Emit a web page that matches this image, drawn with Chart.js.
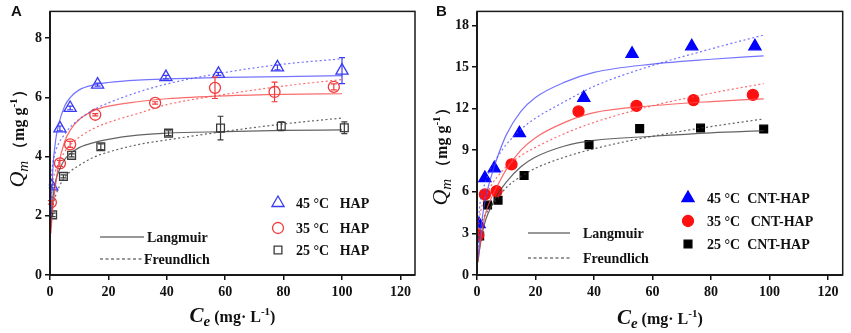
<!DOCTYPE html>
<html>
<head>
<meta charset="utf-8">
<script src="https://cdn.jsdelivr.net/npm/chart.js@4.4.0/dist/chart.umd.min.js"></script>
<style>
body{margin:0;background:#fff;}
#wrap{position:relative;width:851px;height:333px;background:#fff;}
#chartA{position:absolute;left:0;top:0;}
#chartB{position:absolute;left:425px;top:0;}
</style>
</head>
<body>
<div id="wrap">
<canvas id="chartA" width="425" height="333"></canvas>
<canvas id="chartB" width="426" height="333"></canvas>
</div>
<script>
// ---- panel A : HAP ----
var a45x = [0.6, 3.4, 6.9, 16.3, 39.7, 57.7, 77.9, 100];
var a45y = [2.99, 4.95, 5.64, 6.43, 6.68, 6.79, 7.01, 6.9];
var a45err = [0.05, 0.08, 0.06, 0.05, 0.06, 0.05, 0.08, 0.44];
var a35x = [0.3, 3.4, 6.9, 15.5, 36, 56.5, 76.9, 97.2];
var a35y = [2.45, 3.77, 4.41, 5.41, 5.81, 6.32, 6.18, 6.35];
var a35err = [0.06, 0.1, 0.1, 0.04, 0.04, 0.36, 0.33, 0.1];
var a25x = [0.9, 4.6, 7.4, 17.4, 40.6, 58.4, 79.2, 100.8];
var a25y = [2.03, 3.33, 4.04, 4.33, 4.79, 4.96, 5.02, 4.97];
var a25err = [0.06, 0.05, 0.05, 0.1, 0.08, 0.4, 0.15, 0.2];

// fitted curves
var fitXA = [0.3, 1, 2, 3, 5, 7, 10, 15, 20, 30, 40, 60, 80, 100];
var a45L = [1.9, 3.6, 4.6, 5.1, 5.7, 6.0, 6.25, 6.42, 6.5, 6.58, 6.62, 6.67, 6.7, 6.73];
var a45F = [3.2, 3.8, 4.2, 4.45, 4.75, 5.0, 5.26, 5.58, 5.81, 6.17, 6.45, 6.84, 7.12, 7.3];
var a35L = [1.4, 2.3, 3.1, 3.75, 4.5, 4.9, 5.25, 5.55, 5.7, 5.85, 5.95, 6.05, 6.1, 6.12];
var a35F = [2.6, 3.2, 3.55, 3.8, 4.15, 4.4, 4.65, 4.95, 5.15, 5.45, 5.75, 6.1, 6.38, 6.6];
var a25L = [1.6, 2.6, 3.2, 3.5, 3.9, 4.1, 4.3, 4.47, 4.58, 4.72, 4.79, 4.84, 4.88, 4.9];
var a25F = [1.9, 2.35, 2.7, 2.95, 3.3, 3.5, 3.7, 3.98, 4.15, 4.4, 4.56, 4.85, 5.1, 5.3];

// ---- panel B : CNT-HAP ----
var b45x = [0.7, 2.7, 5.9, 14.5, 36.5, 53, 73.4, 95];
var b45y = [3.66, 6.98, 7.69, 10.22, 12.77, 15.94, 16.48, 16.48];
var b35x = [0.45, 2.7, 6.7, 11.8, 34.7, 54.5, 74, 94.3];
var b35y = [2.88, 5.81, 6.05, 7.97, 11.79, 12.19, 12.61, 12.98];
var b25x = [0.9, 3.6, 7.2, 16.1, 38.3, 55.6, 76.4, 98];
var b25y = [2.81, 5.04, 5.39, 7.17, 9.4, 10.55, 10.59, 10.52];

var fitXB = [0.3, 1, 2, 3, 5, 7, 10, 15, 20, 30, 40, 60, 80, 98];
var b45L = [1.2, 2.7, 4.4, 5.6, 7.2, 8.5, 10.1, 11.8, 12.8, 13.9, 14.6, 15.2, 15.55, 15.8];
var b45F = [3.5, 5.1, 6.1, 6.8, 7.8, 8.5, 9.4, 10.5, 11.3, 12.5, 13.6, 15.1, 16.3, 17.3];
var b35L = [1.0, 2.1, 3.5, 4.5, 5.6, 6.45, 7.6, 9.0, 9.9, 11.0, 11.7, 12.2, 12.5, 12.7];
var b35F = [3.0, 4.3, 5.2, 5.7, 6.5, 7.1, 7.8, 8.6, 9.2, 10.2, 11.0, 12.2, 13.1, 13.8];
var b25L = [0.9, 2.0, 3.2, 4.0, 5.0, 5.8, 6.7, 7.8, 8.5, 9.3, 9.7, 10.0, 10.25, 10.4];
var b25F = [2.0, 3.3, 4.0, 4.4, 5.0, 5.5, 6.3, 7.1, 7.7, 8.5, 9.1, 10.0, 10.7, 11.25];

var xTicks = [0, 20, 40, 60, 80, 100, 120];
var yTicksA = [0, 2, 4, 6, 8];
var yTicksB = [0, 3, 6, 9, 12, 15, 18];

var SERIF = '"Liberation Serif", "Times New Roman", serif';

function pts(xs, ys) {
  return xs.map(function (x, i) { return { x: x, y: ys[i] }; });
}

function curve(xs, ys, color, dotted) {
  return {
    data: pts(xs, ys),
    showLine: true,
    pointRadius: 0,
    borderColor: color,
    borderWidth: 1.2,
    borderDash: dotted ? [2, 2.5] : [],
    cubicInterpolationMode: 'monotone',
    fill: false
  };
}

function marks(xs, ys, style, color, fillIt, r, err) {
  return {
    data: pts(xs, ys),
    showLine: false,
    pointStyle: style,
    pointRadius: r,
    pointBorderWidth: 1.3,
    pointBorderColor: color,
    pointBackgroundColor: fillIt ? color : 'rgba(0,0,0,0)',
    borderColor: color,
    backgroundColor: fillIt ? color : 'rgba(0,0,0,0)',
    err: err
  };
}

// draw a line of mixed-font text, centred at x
function runs(ctx, parts, x, y) {
  var w = 0;
  parts.forEach(function (p) { ctx.font = p[1]; w += ctx.measureText(p[0]).width; });
  var cx = x - w / 2;
  ctx.textAlign = 'left';
  ctx.textBaseline = 'alphabetic';
  parts.forEach(function (p) {
    ctx.font = p[1];
    ctx.fillText(p[0], cx, y + (p[2] || 0));
    cx += ctx.measureText(p[0]).width;
  });
}

var decorPlugin = {
  id: 'decor',
  afterDatasetsDraw: function (chart) {
    var ctx = chart.ctx, xs = chart.scales.x, ys = chart.scales.y;
    // error bars
    chart.data.datasets.forEach(function (ds) {
      if (!ds.err) return;
      ctx.save();
      ctx.strokeStyle = ds.borderColor;
      ctx.lineWidth = 1.2;
      ds.data.forEach(function (p, i) {
        var e = ds.err[i];
        if (!e) return;
        var px = xs.getPixelForValue(p.x);
        var top = ys.getPixelForValue(p.y + e), bot = ys.getPixelForValue(p.y - e);
        ctx.beginPath();
        ctx.moveTo(px, top); ctx.lineTo(px, bot);
        ctx.moveTo(px - 3, top); ctx.lineTo(px + 3, top);
        ctx.moveTo(px - 3, bot); ctx.lineTo(px + 3, bot);
        ctx.stroke();
      });
      ctx.restore();
    });
  },
  afterDraw: function (chart) {
    var o = chart.options.plugins.decor;
    var ctx = chart.ctx, a = chart.chartArea;
    ctx.save();
    // frame
    ctx.strokeStyle = '#1a1a1a';
    ctx.lineWidth = 1.5;
    ctx.strokeRect(a.left, a.top, a.right - a.left, a.bottom - a.top);
    ctx.lineWidth = 2;
    ctx.beginPath();
    ctx.moveTo(a.left, a.top); ctx.lineTo(a.left, a.bottom); ctx.lineTo(a.right, a.bottom);
    ctx.stroke();

    ctx.fillStyle = '#111';
    // panel letter
    ctx.font = 'bold 15px "Liberation Sans", Arial, sans-serif';
    ctx.textAlign = 'left';
    ctx.fillText(o.letter, 11, 16);

    // x title
    runs(ctx, [
      ['C', 'italic bold 21px ' + SERIF],
      ['e', 'italic bold 15px ' + SERIF, 4],
      [' (mg\u00b7 L', 'bold 16px ' + SERIF],
      ['-1', 'bold 11px ' + SERIF, -7],
      [')', 'bold 16px ' + SERIF]
    ], (a.left + a.right) / 2, o.xTitleY);

    // y title
    ctx.save();
    ctx.translate(o.yTitleX, o.yTitleY);
    ctx.rotate(-Math.PI / 2);
    runs(ctx, [
      ['Q', 'italic 22px ' + SERIF],
      ['m', 'italic 15px ' + SERIF, 4],
      [' \uff08mg', 'bold 16px ' + SERIF],
      [o.gSep + 'g', 'bold 16px ' + SERIF],
      ['-1', 'bold 11px ' + SERIF, -7],
      ['\uff09', 'bold 16px ' + SERIF]
    ], 0, 0);
    ctx.restore();

    // legend: symbols
    var H = Chart.helpers;
    o.items.forEach(function (it) {
      ctx.save();
      ctx.strokeStyle = it.color;
      ctx.lineWidth = 1.3;
      ctx.fillStyle = it.fill ? it.color : 'rgba(0,0,0,0)';
      H.drawPoint(ctx, { pointStyle: it.style, radius: it.r, rotation: 0, borderWidth: 1.3 }, it.x, it.y);
      ctx.restore();
      ctx.fillStyle = '#111';
      ctx.font = 'bold 14px ' + SERIF;
      ctx.textAlign = 'left';
      ctx.textBaseline = 'middle';
      ctx.fillText(it.label, o.legTextX, it.y + 1);
    });
    // legend: model lines
    o.models.forEach(function (m) {
      ctx.save();
      ctx.strokeStyle = '#333';
      ctx.lineWidth = 1.2;
      ctx.setLineDash(m.dash);
      ctx.beginPath();
      ctx.moveTo(m.x0, m.y); ctx.lineTo(m.x1, m.y);
      ctx.stroke();
      ctx.restore();
      ctx.fillStyle = '#111';
      ctx.font = 'bold 14px ' + SERIF;
      ctx.textAlign = 'left';
      ctx.textBaseline = 'middle';
      ctx.fillText(m.label, m.tx, m.y + 1);
    });
    ctx.restore();
  }
};

function scales(yMax, yTicks, yWidth) {
  var tickFont = { family: SERIF, size: 14, weight: 'bold' };
  return {
    x: {
      type: 'linear', min: 0, max: 125,
      afterBuildTicks: function (s) { s.ticks = xTicks.map(function (v) { return { value: v }; }); },
      afterFit: function (s) { s.height = 58; },
      border: { display: false },
      grid: { drawOnChartArea: false, drawTicks: true, tickLength: 5, color: '#111', lineWidth: 1.5 },
      ticks: { color: '#111', font: tickFont, padding: 4, maxRotation: 0 }
    },
    y: {
      type: 'linear', min: 0, max: yMax,
      afterBuildTicks: function (s) { s.ticks = yTicks.map(function (v) { return { value: v }; }); },
      afterFit: function (s) { s.width = yWidth; },
      border: { display: false },
      grid: { drawOnChartArea: false, drawTicks: true, tickLength: 5, color: '#111', lineWidth: 1.5 },
      ticks: { color: '#111', font: tickFont, padding: 3 }
    }
  };
}

var BLUE_A = '#3a3af5', RED_A = '#f03c3c', BLK_A = '#3a3a3a';
var BLUE_L = 'rgba(70,70,255,0.75)', RED_L = 'rgba(250,70,70,0.8)', BLK_L = 'rgba(60,60,60,0.8)';

new Chart(document.getElementById('chartA'), {
  type: 'scatter',
  data: {
    datasets: [
      curve(fitXA, a45L, BLUE_L, false),
      curve(fitXA, a45F, BLUE_L, true),
      curve(fitXA, a35L, RED_L, false),
      curve(fitXA, a35F, RED_L, true),
      curve(fitXA, a25L, BLK_L, false),
      curve(fitXA, a25F, BLK_L, true),
      marks(a45x, a45y, 'triangle', BLUE_A, false, 7, a45err),
      marks(a35x, a35y, 'circle', RED_A, false, 5.5, a35err),
      marks(a25x, a25y, 'rect', BLK_A, false, 5.5, a25err)
    ]
  },
  options: {
    responsive: false,
    animation: false,
    layout: { padding: { top: 5, right: 10, left: 0, bottom: 0 } },
    scales: scales(8.9, yTicksA, 50),
    plugins: {
      legend: { display: false },
      tooltip: { enabled: false },
      decor: {
        letter: 'A', xTitleY: 322, yTitleX: 24, yTitleY: 135, gSep: ' ',
        legTextX: 296,
        items: [
          { label: '45 \u00b0C   HAP', style: 'triangle', color: BLUE_A, fill: false, r: 7, x: 278, y: 203 },
          { label: '35 \u00b0C   HAP', style: 'circle', color: RED_A, fill: false, r: 5.5, x: 278, y: 228 },
          { label: '25 \u00b0C   HAP', style: 'rect', color: BLK_A, fill: false, r: 5.5, x: 278, y: 250 }
        ],
        models: [
          { label: 'Langmuir', dash: [], x0: 100, x1: 144, y: 237, tx: 147 },
          { label: 'Freundlich', dash: [3, 2.5], x0: 100, x1: 142, y: 259, tx: 144 }
        ]
      }
    }
  },
  plugins: [decorPlugin]
});

new Chart(document.getElementById('chartB'), {
  type: 'scatter',
  data: {
    datasets: [
      curve(fitXB, b45L, BLUE_L, false),
      curve(fitXB, b45F, BLUE_L, true),
      curve(fitXB, b35L, RED_L, false),
      curve(fitXB, b35F, RED_L, true),
      curve(fitXB, b25L, BLK_L, false),
      curve(fitXB, b25F, BLK_L, true),
      marks(b45x, b45y, 'triangle', '#0000ff', true, 7),
      marks(b35x, b35y, 'circle', '#ff1010', true, 5.5),
      marks(b25x, b25y, 'rect', '#000', true, 5.5)
    ]
  },
  options: {
    responsive: false,
    animation: false,
    layout: { padding: { top: 5, right: 8, left: 0, bottom: 0 } },
    scales: scales(19, yTicksB, 52),
    plugins: {
      legend: { display: false },
      tooltip: { enabled: false },
      decor: {
        letter: 'B', xTitleY: 324, yTitleX: 22, yTitleY: 153, gSep: ' ',
        legTextX: 282,
        items: [
          { label: '45 \u00b0C  CNT-HAP', style: 'triangle', color: '#0000ff', fill: true, r: 7, x: 263, y: 198 },
          { label: '35 \u00b0C   CNT-HAP', style: 'circle', color: '#ff1010', fill: true, r: 5.5, x: 263, y: 221 },
          { label: '25 \u00b0C  CNT-HAP', style: 'rect', color: '#000', fill: true, r: 5.5, x: 263, y: 244 }
        ],
        models: [
          { label: 'Langmuir', dash: [], x0: 103, x1: 145, y: 233, tx: 158 },
          { label: 'Freundlich', dash: [3, 2.5], x0: 103, x1: 145, y: 258, tx: 158 }
        ]
      }
    }
  },
  plugins: [decorPlugin]
});
</script>
</body>
</html>
